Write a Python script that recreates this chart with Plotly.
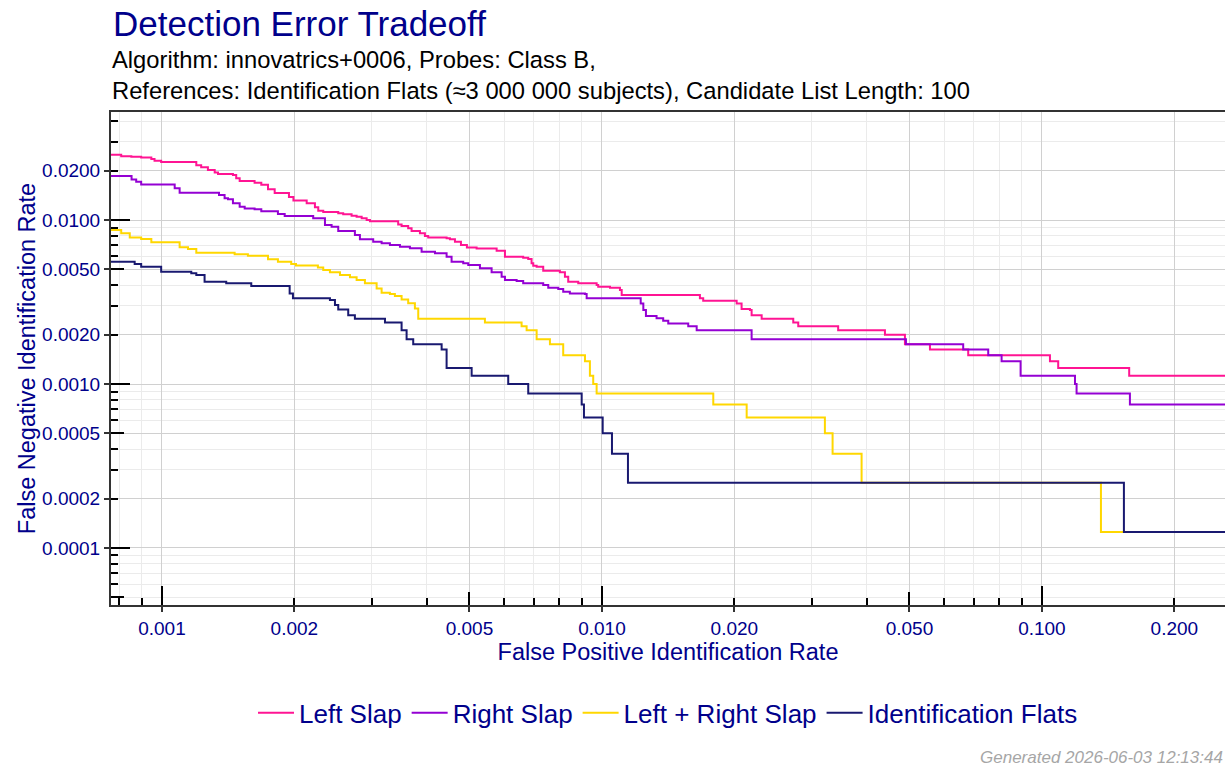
import numpy as np
import plotly.graph_objects as go

# ---------------- data ----------------
left_fpir = [0.00075, 0.000808, 0.000852, 0.000897, 0.000946, 0.000962, 0.000996, 0.001197, 0.001228, 0.001272,
             0.001318, 0.001341, 0.00145, 0.001475, 0.001502, 0.001624, 0.001682, 0.001742, 0.001804, 0.001944,
             0.00199, 0.002133, 0.002227, 0.002266, 0.002326, 0.002516, 0.002582, 0.002698, 0.00277, 0.002844,
             0.002919, 0.00297, 0.003443, 0.003505, 0.003628, 0.003693, 0.003858, 0.00396, 0.004029, 0.004436,
             0.004513, 0.004634, 0.004782, 0.004933, 0.00519, 0.005764, 0.00602, 0.006623, 0.0068, 0.00692,
             0.006981, 0.007106, 0.007355, 0.008024, 0.00824, 0.008383, 0.008835, 0.009727, 0.009808, 0.01043,
             0.01099, 0.01109, 0.0167, 0.01699, 0.02024, 0.02077, 0.0217, 0.02189, 0.02307, 0.02722,
             0.02794, 0.03443, 0.04398, 0.04883, 0.05566, 0.068, 0.1043, 0.1089, 0.1579, 0.27]
left_fnir = [0.025, 0.0245, 0.0243, 0.0241, 0.0236, 0.0230, 0.0226, 0.0216, 0.0210, 0.0202,
             0.0195, 0.0191, 0.0188, 0.0180, 0.0173, 0.0169, 0.0164, 0.0154, 0.0146, 0.0138,
             0.01315, 0.01264, 0.01195, 0.01139, 0.01119, 0.01099, 0.01083, 0.01062, 0.01047, 0.01024,
             0.0100, 0.00982, 0.00941, 0.00919, 0.0089, 0.00857, 0.0083, 0.00799, 0.00784, 0.00774,
             0.00763, 0.00738, 0.00704, 0.0068, 0.0067, 0.0065, 0.00597, 0.00589, 0.00578, 0.00545,
             0.00526, 0.00519, 0.00491, 0.0048, 0.00451, 0.0042, 0.00411, 0.00402, 0.00392, 0.00387,
             0.00374, 0.00349, 0.00333, 0.00322, 0.0031, 0.00287, 0.00283, 0.00263, 0.0025, 0.002375,
             0.00225, 0.002125, 0.002, 0.00175, 0.001625, 0.0015, 0.001375, 0.00125, 0.001125, 0.001125]

right_fpir = [0.00075, 0.000853, 0.000874, 0.000897, 0.001069, 0.001097, 0.001348, 0.001388, 0.001413, 0.00145,
              0.001502, 0.001542, 0.001624, 0.001682, 0.001835, 0.001901, 0.002207, 0.002347, 0.00243, 0.002516,
              0.002745, 0.002818, 0.003021, 0.003157, 0.003297, 0.003475, 0.003661, 0.003892, 0.004174, 0.004436,
              0.004553, 0.004839, 0.004968, 0.005281, 0.005614, 0.005916, 0.00602, 0.0064, 0.006623, 0.007355,
              0.007551, 0.007957, 0.008166, 0.008455, 0.009151, 0.009232, 0.01225, 0.01242, 0.01259, 0.01331,
              0.01378, 0.01415, 0.01571, 0.01642, 0.02189, 0.04909, 0.06624, 0.07551, 0.08098, 0.08945,
              0.1189, 0.1199, 0.1585, 0.27]
right_fnir = [0.01854, 0.0177, 0.0171, 0.0165, 0.01561, 0.01467, 0.0142, 0.01356, 0.01337, 0.01264,
              0.01205, 0.01178, 0.01162, 0.0113, 0.01088, 0.01058, 0.01024, 0.00932, 0.0091, 0.00857,
              0.0081, 0.00763, 0.00738, 0.00721, 0.00704, 0.00688, 0.00672, 0.0064, 0.00627, 0.00597,
              0.00557, 0.00545, 0.00532, 0.00508, 0.0048, 0.00451, 0.00431, 0.00425, 0.00411, 0.00402,
              0.00387, 0.0038, 0.00365, 0.00357, 0.00354, 0.00333, 0.0031, 0.00283, 0.0026, 0.00252,
              0.00243, 0.00234, 0.00225, 0.002125, 0.001875, 0.00175, 0.001625, 0.0015, 0.001375, 0.001125,
              0.001, 0.000875, 0.00075, 0.00075]

both_fpir = [0.00075, 0.000808, 0.000845, 0.000897, 0.000946, 0.001097, 0.001146, 0.001197, 0.001463, 0.001568,
             0.001742, 0.001835, 0.001967, 0.002017, 0.002262, 0.002326, 0.002409, 0.002539, 0.002675, 0.00277,
             0.002893, 0.003076, 0.003157, 0.003297, 0.003384, 0.003505, 0.003628, 0.003758, 0.003824, 0.005421,
             0.006568, 0.006743, 0.007106, 0.007618, 0.008166, 0.009151, 0.009391, 0.009555, 0.009727, 0.01791,
             0.02133, 0.03212, 0.03344, 0.03892, 0.1362, 0.27]
both_fnir = [0.00869, 0.0083, 0.00784, 0.00766, 0.00731, 0.00682, 0.00666, 0.00632, 0.00618, 0.00606,
             0.00576, 0.00557, 0.00539, 0.00528, 0.00513, 0.00496, 0.0048, 0.00462, 0.00448, 0.00431,
             0.00411, 0.00383, 0.0036, 0.00354, 0.00344, 0.00328, 0.00311, 0.00289, 0.0025, 0.002375,
             0.00225, 0.002125, 0.001875, 0.00175, 0.0015, 0.001375, 0.001125, 0.001, 0.000875, 0.00075,
             0.000625, 0.0005, 0.000375, 0.00025, 0.000125, 0.000125]

flats_fpir = [0.00075, 0.000867, 0.000897, 0.000996, 0.001166, 0.001197, 0.00125, 0.0014, 0.001596, 0.001951,
              0.001985, 0.002409, 0.002473, 0.002516, 0.002651, 0.002745, 0.003213, 0.003505, 0.003598, 0.003725,
              0.004322, 0.004436, 0.005057, 0.006124, 0.0068, 0.008995, 0.009103, 0.01004, 0.01054, 0.01146,
              0.1536, 0.27]
flats_fnir = [0.00557, 0.00539, 0.00519, 0.00484, 0.00473, 0.00462, 0.0042, 0.00411, 0.00396, 0.00357,
              0.00333, 0.00325, 0.00303, 0.00285, 0.00263, 0.0025, 0.002375, 0.002125, 0.001875, 0.00175,
              0.001625, 0.00125, 0.001125, 0.001, 0.000875, 0.00075, 0.000625, 0.0005, 0.000375, 0.00025,
              0.000125, 0.000125]

series_names = ["Left Slap", "Right Slap", "Left + Right Slap", "Identification Flats"]
series_colors = ["#FF1493", "#9400D3", "#FFD700", "#191970"]

x_ticks = [0.001, 0.002, 0.005, 0.01, 0.02, 0.05, 0.1, 0.2]
x_ticktext = ["0.001", "0.002", "0.005", "0.010", "0.020", "0.050", "0.100", "0.200"]
y_ticks = [0.0001, 0.0002, 0.0005, 0.001, 0.002, 0.005, 0.01, 0.02]
y_ticktext = ["0.0001", "0.0002", "0.0005", "0.0010", "0.0020", "0.0050", "0.0100", "0.0200"]

x_range = [0.000766, 0.2607]
y_range = [0.0000449, 0.0456]

# ---------------- helpers for log ticks ----------------
def log_values(lo, hi, mults):
    out = []
    for e in range(-6, 1):
        for m in mults:
            v = m * 10.0 ** e
            if lo <= v <= hi:
                out.append(float(f"{v:.6g}"))
    return out

def minor_vals(lo, hi, major):
    return [v for v in log_values(lo, hi, range(1, 10)) if all(abs(v - M) / M > 1e-6 for M in major)]

x_minor = minor_vals(*x_range, x_ticks)
y_minor = minor_vals(*y_range, y_ticks)
x_dec = log_values(*x_range, [1])
y_dec = log_values(*y_range, [1])
x_five = log_values(*x_range, [5])
y_five = log_values(*y_range, [5])
x_short = log_values(*x_range, [2, 3, 4, 6, 7, 8, 9])
y_short = log_values(*y_range, [2, 3, 4, 6, 7, 8, 9])

xr = [np.log10(x_range[0]), np.log10(x_range[1])]
yr = [np.log10(y_range[0]), np.log10(y_range[1])]

FONT = "Liberation Sans, Arial, sans-serif"
BLUE = "#00008B"

fig = go.Figure()
data = [(left_fpir, left_fnir), (right_fpir, right_fnir), (both_fpir, both_fnir), (flats_fpir, flats_fnir)]
for (xs, ys), name, col in zip(data, series_names, series_colors):
    fig.add_trace(go.Scatter(x=xs, y=ys, mode="lines", name=name,
                             line=dict(color=col, width=2, shape="hv")))

# dummy traces so the overlay tick axes are drawn
fig.add_trace(go.Scatter(x=[None], y=[None], xaxis="x2", yaxis="y2", showlegend=False, hoverinfo="skip"))
fig.add_trace(go.Scatter(x=[None], y=[None], xaxis="x3", yaxis="y3", showlegend=False, hoverinfo="skip"))

common = dict(type="log", showgrid=False, zeroline=False, showline=False, showticklabels=False,
              tickmode="array", ticks="inside", tickcolor="black", tickwidth=2)

fig.update_layout(
    width=1225, height=767,
    margin=dict(l=111, r=0, t=112, b=162),
    paper_bgcolor="white", plot_bgcolor="white",
    font=dict(family=FONT, color=BLUE),
    showlegend=True,
    legend=dict(orientation="h", x=0.5, xanchor="center", y=-0.219, yanchor="middle", itemwidth=36,
                font=dict(size=26, color=BLUE), bgcolor="rgba(0,0,0,0)"),
    xaxis=dict(type="log", range=xr, tickmode="array", tickvals=x_ticks, ticktext=x_ticktext,
               ticks="outside", ticklen=5, tickwidth=1.5, tickcolor="#333333",
               tickfont=dict(size=19, color=BLUE),
               showgrid=True, gridcolor="#D0D0D0", gridwidth=1,
               minor=dict(tickmode="array", tickvals=x_minor, showgrid=True, gridcolor="#EBEBEB", gridwidth=1, ticks=""),
               showline=True, linecolor="#333333", linewidth=2, mirror=True, zeroline=False,
               title=dict(text="False Positive Identification Rate", font=dict(size=23.5, color=BLUE), standoff=0),
               automargin=False),
    yaxis=dict(type="log", range=yr, tickmode="array", tickvals=y_ticks, ticktext=y_ticktext,
               ticks="outside", ticklen=5, tickwidth=1.5, tickcolor="#333333",
               tickfont=dict(size=19, color=BLUE),
               showgrid=True, gridcolor="#D0D0D0", gridwidth=1,
               minor=dict(tickmode="array", tickvals=y_minor, showgrid=True, gridcolor="#EBEBEB", gridwidth=1, ticks=""),
               showline=True, linecolor="#333333", linewidth=2, zeroline=False,
               title=dict(text="False Negative Identification Rate", font=dict(size=23.5, color=BLUE), standoff=0),
               automargin=False),
    xaxis2=dict(common, overlaying="x", anchor="y2", range=xr, tickvals=x_dec, ticklen=19,
                minor=dict(tickmode="array", tickvals=x_short, ticks="inside", ticklen=7, tickwidth=2,
                           tickcolor="black", showgrid=False)),
    yaxis2=dict(common, overlaying="y", anchor="x2", range=yr, tickvals=y_dec, ticklen=19,
                minor=dict(tickmode="array", tickvals=y_short, ticks="inside", ticklen=7, tickwidth=2,
                           tickcolor="black", showgrid=False)),
    xaxis3=dict(common, overlaying="x", anchor="y3", range=xr, tickvals=x_five, ticklen=13),
    yaxis3=dict(common, overlaying="y", anchor="x3", range=yr, tickvals=y_five, ticklen=13),
)

plot_h = 767 - 112 - 162

def py(pix):
    return (767 - 162 - pix) / plot_h

fig.add_annotation(text="Detection Error Tradeoff", xref="paper", yref="paper", x=0, y=py(23),
                   xanchor="left", yanchor="middle", showarrow=False,
                   font=dict(size=35, color=BLUE, family=FONT))
fig.add_annotation(text="Algorithm: innovatrics+0006, Probes: Class B,<br>"
                        "References: Identification Flats (≈3 000 000 subjects), Candidate List Length: 100",
                   xref="paper", yref="paper", x=0, y=py(75), align="left",
                   xanchor="left", yanchor="middle", showarrow=False, borderpad=0,
                   font=dict(size=23.75, color="black", family=FONT))
fig.add_annotation(text="<i>Generated 2026-06-03 12:13:44</i>", xref="paper", yref="paper", x=1, y=py(757),
                   xanchor="right", yanchor="middle", showarrow=False,
                   font=dict(size=17, color="#A6A6A6", family=FONT))

fig.write_html("out.html", config={"displayModeBar": False},
               post_script="document.body.style.margin='0';document.body.style.overflow='hidden';")
